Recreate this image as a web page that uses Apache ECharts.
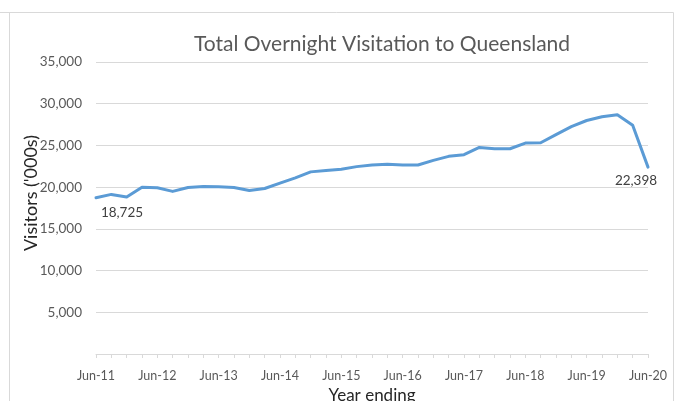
<!DOCTYPE html>
<html>
<head>
<meta charset="utf-8">
<script src="https://cdn.jsdelivr.net/npm/echarts@6/dist/echarts.min.js"></script>
<style>
  html, body { margin: 0; padding: 0; background: #ffffff; }
  #chart { width: 678px; height: 401px; }
</style>
</head>
<body>
<div id="chart"></div>
<script>
// quarters, year ending
const categories = [
  'Jun-11', 'Sep-11', 'Dec-11', 'Mar-12',
  'Jun-12', 'Sep-12', 'Dec-12', 'Mar-13',
  'Jun-13', 'Sep-13', 'Dec-13', 'Mar-14',
  'Jun-14', 'Sep-14', 'Dec-14', 'Mar-15',
  'Jun-15', 'Sep-15', 'Dec-15', 'Mar-16',
  'Jun-16', 'Sep-16', 'Dec-16', 'Mar-17',
  'Jun-17', 'Sep-17', 'Dec-17', 'Mar-18',
  'Jun-18', 'Sep-18', 'Dec-18', 'Mar-19',
  'Jun-19', 'Sep-19', 'Dec-19', 'Mar-20',
  'Jun-20'
]
// visitors ('000s)
const visitors = [
  18725, 19130, 18810, 20000,
  19920, 19490, 19960, 20080,
  20040, 19960, 19600, 19840,
  20480, 21110, 21830, 21990,
  22140, 22460, 22650, 22740,
  22650, 22650, 23210, 23690,
  23890, 24760, 24600, 24600,
  25280, 25320, 26290, 27260,
  27990, 28430, 28680, 27420,
  22398
]
const yTicks = [0, 5000, 10000, 15000, 20000, 25000, 30000, 35000]

const font = 'Lato'
const fmt = v => v.toLocaleString('en-US')

const seriesData = visitors.map((v, i) => {
  if (i === 0) {
    return { value: v, label: { show: true, position: 'bottom', distance: 7, offset: [26, 0] } }
  }
  if (i === visitors.length - 1) {
    return { value: v, label: { show: true, position: 'bottom', distance: 6, offset: [-12, 0] } }
  }
  return v
})

const chart = echarts.init(document.getElementById('chart'))
chart.setOption({
  animation: false,
  backgroundColor: '#ffffff',
  grid: {
    left: 96,
    right: 30,
    top: 62,
    bottom: 47,
    containLabel: false,
    outerBoundsMode: 'none'
  },
  graphic: [
    { type: 'line', shape: { x1: 0, y1: 12.5, x2: 673.5, y2: 12.5 }, style: { stroke: '#d9d9d9', lineWidth: 1 } },
    { type: 'line', shape: { x1: 9.5, y1: 12.5, x2: 9.5, y2: 401 }, style: { stroke: '#d9d9d9', lineWidth: 1 } },
    { type: 'line', shape: { x1: 673.5, y1: 12.5, x2: 673.5, y2: 401 }, style: { stroke: '#d9d9d9', lineWidth: 1 } },
    {
      type: 'text', x: 382, y: 44,
      style: {
        text: 'Total Overnight Visitation to Queensland',
        font: '21px ' + font, fill: '#595959',
        textAlign: 'center', textVerticalAlign: 'middle'
      }
    },
    {
      type: 'text', x: 31, y: 193, rotation: Math.PI / 2,
      style: {
        text: "Visitors ('000s)",
        font: '18px ' + font, fill: '#262626',
        textAlign: 'center', textVerticalAlign: 'middle'
      }
    }
  ],
  xAxis: {
    type: 'category',
    boundaryGap: false,
    data: categories,
    name: 'Year ending',
    nameLocation: 'middle',
    nameGap: 30,
    nameTextStyle: { fontFamily: font, fontSize: 17, color: '#262626' },
    axisLine: { lineStyle: { color: '#d9d9d9', width: 1 } },
    axisTick: { show: true, interval: 0, length: 4, lineStyle: { color: '#d9d9d9' } },
    axisLabel: {
      interval: 3,
      margin: 15,
      fontFamily: font,
      fontSize: 12.5,
      color: '#595959'
    },
    splitLine: { show: false }
  },
  yAxis: {
    type: 'value',
    min: yTicks[0],
    max: yTicks[yTicks.length - 1],
    interval: yTicks[1] - yTicks[0],
    axisLine: { show: false },
    axisTick: { show: false },
    axisLabel: {
      margin: 14,
      fontFamily: font,
      fontSize: 13.5,
      color: '#595959',
      formatter: v => (v === 0 ? '' : fmt(v))
    },
    splitLine: { lineStyle: { color: '#d9d9d9', width: 1 } }
  },
  series: [{
    type: 'line',
    data: seriesData,
    symbol: 'circle',
    symbolSize: 1,
    showSymbol: true,
    lineStyle: { color: '#5b9bd5', width: 3, join: 'round', cap: 'round' },
    itemStyle: { color: '#5b9bd5' },
    label: {
      show: false,
      fontFamily: font,
      fontSize: 13.5,
      color: '#404040',
      formatter: p => fmt(p.value)
    },
    emphasis: { disabled: true }
  }]
})
</script>
</body>
</html>
